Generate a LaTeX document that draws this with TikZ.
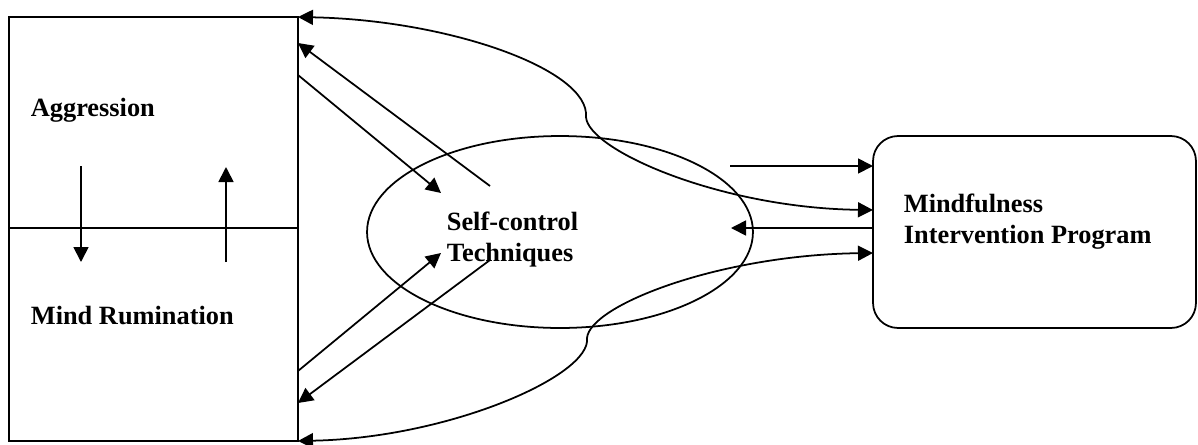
\documentclass[tikz,border=0pt]{standalone}
\usepackage{fontspec}
\setmainfont{Liberation Serif}
\usetikzlibrary{arrows.meta,shapes.geometric}
\begin{document}
\begin{tikzpicture}[x=0.02cm,y=-0.02cm, line width=1pt,
  arr/.style={-{Triangle[length=0.3cm,width=0.3cm]}},
  darr/.style={{Triangle[length=0.3cm,width=0.3cm]}-{Triangle[length=0.3cm,width=0.3cm]}},
  lbl/.style={font=\fontsize{15}{18}\selectfont\bfseries, inner sep=0pt, anchor=base west},
  box/.style={draw, rectangle, inner sep=0pt, outer sep=0pt}]
\useasboundingbox (0,0) rectangle (1198,444);
% shapes
\node[box, minimum width=5.78cm, minimum height=4.22cm] (agg) at (153.5,122.5) {};
\node[box, minimum width=5.78cm, minimum height=4.26cm] (rum) at (153.5,334.5) {};
\node[box, ellipse, minimum width=7.72cm, minimum height=3.84cm] (sc) at (560,232) {};
\node[box, rounded corners=0.5cm, minimum width=6.46cm, minimum height=3.84cm] (mip) at (1034.5,232) {};
% texts
\node[lbl] (aggT) at (30,116) {Aggression};
\node[lbl] (rumT) at (30,324) {Mind Rumination};
\node[lbl] (scT) at (446,230) {\begin{tabular}[t]{@{}l@{}}Self-control\\Techniques\end{tabular}};
\node[lbl] (mipT) at (903,212) {\begin{tabular}[t]{@{}l@{}}Mindfulness\\Intervention Program\end{tabular}};
% connector ends
\coordinate (dA) at (81,166);
\coordinate (dB) at (81,262);
\coordinate (uA) at (226,262);
\coordinate (uB) at (226,167);
\coordinate (g1s) at (490,186);
\coordinate (g1e) at (298,43);
\coordinate (g2s) at (298,75);
\coordinate (g2e) at (441,193);
\coordinate (g3s) at (298,371);
\coordinate (g3e) at (441,253);
\coordinate (g4s) at (490,260);
\coordinate (g4e) at (298,403);
\coordinate (hAs) at (730,166);
\coordinate (hAe) at (873,166);
\coordinate (hCs) at (873,228);
\coordinate (hCe) at (731,228);
\coordinate (tM) at (586,117);
\coordinate (tE) at (873,210);
\coordinate (bM) at (587,338);
\coordinate (bE) at (873,253);
% connectors
\draw[arr] (dA) -- (dB);
\draw[arr] (uA) -- (uB);
\draw[arr] (g1s) -- (g1e);
\draw[arr] (g2s) -- (g2e);
\draw[arr] (g3s) -- (g3e);
\draw[arr] (g4s) -- (g4e);
\draw[arr] (hAs) -- (hAe);
\draw[arr] (hCs) -- (hCe);
\draw[darr] (agg.north east) .. controls (450,20) and (590,70) .. (tM)
   .. controls (588,150) and (720,208) .. (tE);
\draw[darr] (rum.south east) .. controls (450,438) and (592,375) .. (bM)
   .. controls (590,305) and (720,255) .. (bE);
\end{tikzpicture}
\end{document}
